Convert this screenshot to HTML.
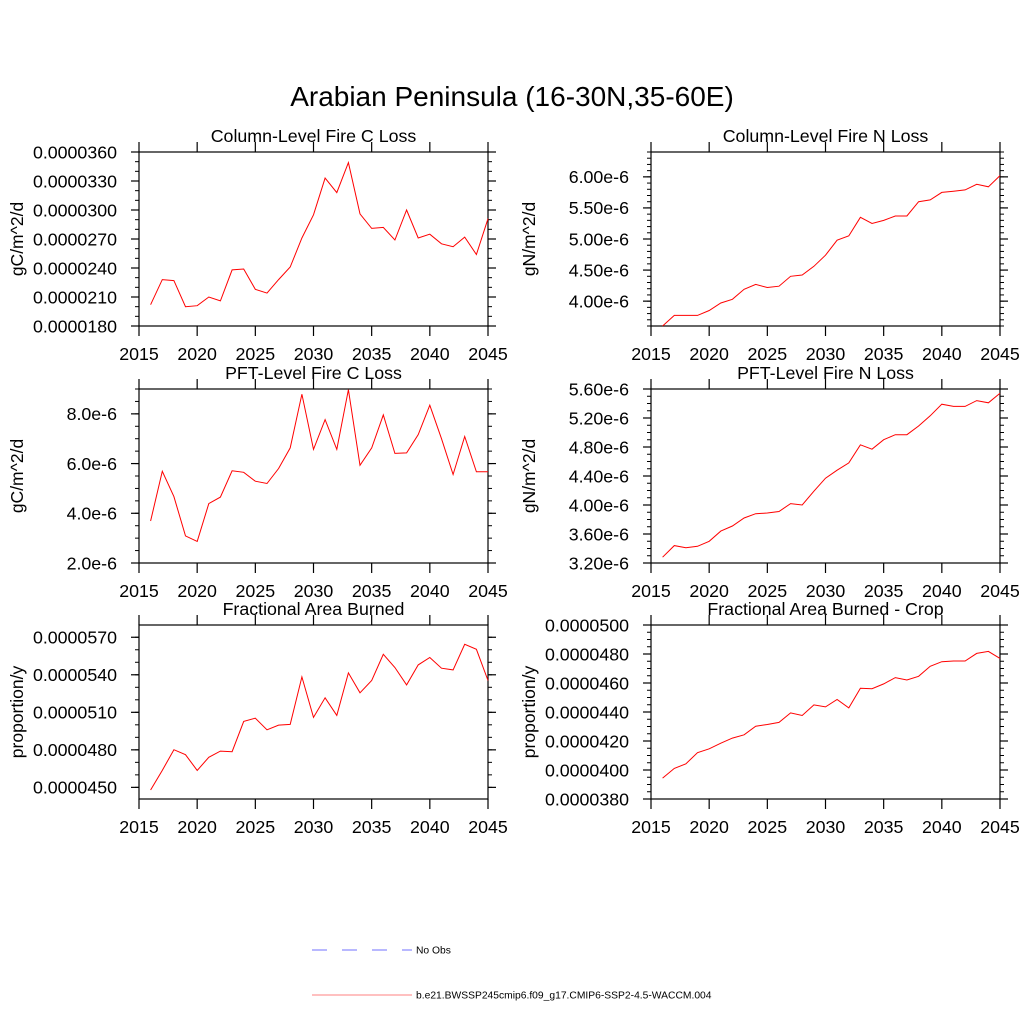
<!DOCTYPE html>
<html><head><meta charset="utf-8"><style>
html,body{margin:0;padding:0;background:#fff}
svg{display:block;font-family:"Liberation Sans",Arial,sans-serif}
</style></head><body>
<svg id="fig" width="1024" height="1024" viewBox="0 0 1024 1024">
<text x="512" y="106" font-size="28" text-anchor="middle">Arabian Peninsula (16-30N,35-60E)</text>
<g>
<line x1="312" y1="950" x2="412" y2="950" stroke="#7070ff" stroke-width="1" stroke-dasharray="15,15"/>
<text x="416" y="953.5" font-size="10.3">No Obs</text>
<line x1="312" y1="995" x2="412" y2="995" stroke="#ff8080" stroke-width="1"/>
<text x="416" y="998.5" font-size="10.3">b.e21.BWSSP245cmip6.f09_g17.CMIP6-SSP2-4.5-WACCM.004</text>
</g>
</svg>
<script>
const years = [2016,2017,2018,2019,2020,2021,2022,2023,2024,2025,2026,2027,2028,2029,2030,2031,2032,2033,2034,2035,2036,2037,2038,2039,2040,2041,2042,2043,2044,2045];
const xTicks = [2015,2020,2025,2030,2035,2040,2045];
// values in 1e-6
const colFireC = [20.2,22.8,22.7,20.0,20.1,21.0,20.6,23.8,23.9,21.8,21.4,22.8,24.1,27.1,29.5,33.3,31.8,34.9,29.6,28.1,28.2,26.9,30.0,27.1,27.5,26.5,26.2,27.2,25.4,29.1];
const colFireN = [3.60,3.77,3.77,3.77,3.85,3.97,4.03,4.19,4.27,4.22,4.24,4.40,4.42,4.56,4.74,4.98,5.05,5.35,5.25,5.30,5.37,5.37,5.60,5.63,5.75,5.77,5.79,5.88,5.84,6.02];
const pftFireC = [3.69,5.69,4.67,3.09,2.87,4.39,4.65,5.71,5.65,5.29,5.20,5.80,6.63,8.79,6.57,7.77,6.57,8.97,5.93,6.63,7.96,6.41,6.43,7.16,8.35,7.00,5.56,7.09,5.67,5.67];
const pftFireN = [3.28,3.44,3.41,3.43,3.50,3.64,3.71,3.82,3.88,3.89,3.91,4.02,4.00,4.19,4.37,4.48,4.58,4.83,4.77,4.90,4.97,4.97,5.09,5.23,5.39,5.36,5.36,5.44,5.41,5.54];
// values in 1e-7
const fracBurned = [447.9,463.6,480.1,476.1,463.6,474.0,479.0,478.5,502.7,505.3,496.0,499.8,500.3,538.3,505.9,521.6,507.5,541.5,525.6,535.4,556.4,545.8,531.9,547.9,553.8,545.3,543.9,564.4,560.4,535.4];
const fracBurnedCrop = [394.4,401.1,404.3,411.9,414.6,418.5,422.0,424.3,430.2,431.4,432.8,439.4,437.6,444.9,443.5,448.6,442.8,456.4,456.1,459.4,463.7,462.1,464.6,471.5,474.7,475.2,475.2,480.4,481.8,477.0];
const ticks1 = ["0.0000180","0.0000210","0.0000240","0.0000270","0.0000300","0.0000330","0.0000360"];
const ticks2 = ["4.00e-6","4.50e-6","5.00e-6","5.50e-6","6.00e-6"];
const ticks3 = ["2.0e-6","4.0e-6","6.0e-6","8.0e-6"];
const ticks4 = ["3.20e-6","3.60e-6","4.00e-6","4.40e-6","4.80e-6","5.20e-6","5.60e-6"];
const ticks5 = ["0.0000450","0.0000480","0.0000510","0.0000540","0.0000570"];
const ticks6 = ["0.0000380","0.0000400","0.0000420","0.0000440","0.0000460","0.0000480","0.0000500"];

const NS='http://www.w3.org/2000/svg';
const svg=document.getElementById('fig');
function mk(tag,attrs,parent){const e=document.createElementNS(NS,tag);for(const k in attrs)e.setAttribute(k,attrs[k]);(parent||svg).appendChild(e);return e;}

const panels=[
 {id:'col-fire-c',title:'Column-Level Fire C Loss',ylab:'gC/m^2/d',x0:139,x1:488,y0:152,y1:326,ymin:18,ymax:36,data:colFireC,labels:ticks1,tstart:18,tstep:3,minor:1},
 {id:'col-fire-n',title:'Column-Level Fire N Loss',ylab:'gN/m^2/d',x0:651,x1:1000,y0:152,y1:326,ymin:3.6,ymax:6.4,data:colFireN,labels:ticks2,tstart:4.0,tstep:0.5,minor:0.1},
 {id:'pft-fire-c',title:'PFT-Level Fire C Loss',ylab:'gC/m^2/d',x0:139,x1:488,y0:389,y1:563,ymin:2,ymax:9,data:pftFireC,labels:ticks3,tstart:2,tstep:2,minor:0.5},
 {id:'pft-fire-n',title:'PFT-Level Fire N Loss',ylab:'gN/m^2/d',x0:651,x1:1000,y0:389,y1:563,ymin:3.2,ymax:5.6,data:pftFireN,labels:ticks4,tstart:3.2,tstep:0.4,minor:0.1},
 {id:'frac-burned',title:'Fractional Area Burned',ylab:'proportion/y',x0:139,x1:488,y0:625,y1:799,ymin:440.7,ymax:579.8,data:fracBurned,labels:ticks5,tstart:450,tstep:30,minor:10},
 {id:'frac-burned-crop',title:'Fractional Area Burned - Crop',ylab:'proportion/y',x0:651,x1:1000,y0:625,y1:799,ymin:380,ymax:500,data:fracBurnedCrop,labels:ticks6,tstart:380,tstep:20,minor:5}
];

panels.forEach(p=>{
 const g=mk('g',{});
 
 
 const xs=v=>p.x0+(v-2015)/30*(p.x1-p.x0);
 const ys=v=>p.y1-(v-p.ymin)/(p.ymax-p.ymin)*(p.y1-p.y0);
 const t=mk('text',{x:(p.x0+p.x1)/2,y:p.y0-10,'font-size':17.8,'text-anchor':'middle'},g);
 t.textContent=p.title;
 
 
 const yl=mk('text',{x:0,y:0,'font-size':17.5,'text-anchor':'middle',transform:`translate(${p.x0-116},${(p.y0+p.y1)/2}) rotate(-90)`},g);
 yl.textContent=p.ylab;
 
 
 for(let v=Math.ceil(p.ymin/p.minor-1e-6)*p.minor; v<=p.ymax+1e-9; v+=p.minor){
  const y=ys(v);
  mk('line',{x1:p.x0-4,x2:p.x0,y1:y,y2:y,stroke:'#000','stroke-width':1},g);
  mk('line',{x1:p.x1,x2:p.x1+4,y1:y,y2:y,stroke:'#000','stroke-width':1},g);
 }
 p.labels.forEach((lab,i)=>{
  const v=p.tstart+i*p.tstep, y=ys(v);
  mk('line',{x1:p.x0-8,x2:p.x0,y1:y,y2:y,stroke:'#000','stroke-width':1.2},g);
  mk('line',{x1:p.x1,x2:p.x1+8,y1:y,y2:y,stroke:'#000','stroke-width':1.2},g);
  const tx=mk('text',{x:p.x0-22,y:y+6.3,'font-size':17.8,'text-anchor':'end'},g);
  tx.textContent=lab;
  
  
 });
 xTicks.forEach(yr=>{
  const x=xs(yr);
  mk('line',{x1:x,x2:x,y1:p.y1,y2:p.y1+10,stroke:'#000','stroke-width':1.2},g);
  mk('line',{x1:x,x2:x,y1:p.y0-10,y2:p.y0,stroke:'#000','stroke-width':1.2},g);
  const tx=mk('text',{x:x,y:p.y1+34,'font-size':17.8,'text-anchor':'middle'},g);
  tx.textContent=yr;
  
  
 });
 const box=mk('rect',{x:p.x0,y:p.y0,width:p.x1-p.x0,height:p.y1-p.y0,fill:'none',stroke:'#000','stroke-width':1.2},g);
 
 
 const pts=p.data.map((v,i)=>xs(years[i]).toFixed(1)+','+ys(v).toFixed(1)).join(' ');
 const pl=mk('polyline',{points:pts,fill:'none',stroke:'#ff0000','stroke-width':1},g);
 
 
});
</script>
</body></html>
